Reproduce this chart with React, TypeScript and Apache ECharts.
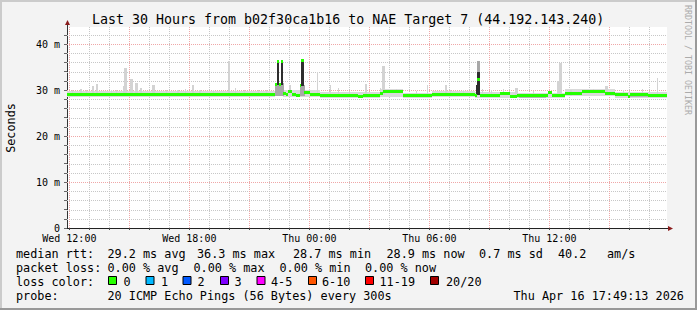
import React, { useEffect, useRef } from 'react';
import * as echarts from 'echarts';

// time in minutes since Wed 00:00
const T_MIN = 713; // Wed 11:53
const T_MAX = 2513; // Thu 17:53
const Y_MAX = 43.7;

const xLabelValues = [720, 1080, 1440, 1800, 2160];
const xLabelTexts = ['Wed 12:00', 'Wed 18:00', 'Thu 00:00', 'Thu 06:00', 'Thu 12:00'];
const xMajorGrid = [720, 900, 1080, 1260, 1440, 1620, 1800, 1980, 2160, 2340];
const xMinorGrid = [720, 780, 840, 900, 960, 1020, 1080, 1140, 1200, 1260, 1320, 1380, 1440, 1500, 1560,
  1620, 1680, 1740, 1800, 1860, 1920, 1980, 2040, 2100, 2160, 2220, 2280, 2340, 2400, 2460];
const yLabelValues = [0, 10, 20, 30, 40];
const yMajorGrid = [10, 20, 30, 40];
const yMinorGrid = [2, 4, 6, 8, 12, 14, 16, 18, 22, 24, 26, 28, 32, 34, 36, 38, 42];
const yTicks = [0, 2, 4, 6, 8, 10, 12, 14, 16, 18, 20, 22, 24, 26, 28, 30, 32, 34, 36, 38, 40, 42];

// median rtt (ms): [step start minute, value]
const medianSteps: [number, number][] = [
  [713, 29.1], [842, 29.0], [887, 29.1], [932, 28.95], [992, 29.1],
  [1337, 31.3], [1343, 36.2], [1350, 31.3], [1354, 36.2], [1361, 29.2], [1370, 29.0],
  [1376, 29.7], [1388, 29.0], [1400, 28.7], [1413, 31.0], [1416, 36.4], [1425, 29.4],
  [1442, 29.0], [1472, 28.8], [1586, 28.6], [1601, 28.8], [1652, 29.2], [1661, 29.7],
  [1721, 28.8], [1808, 29.1], [1937, 28.8], [1944, 32.3], [1951, 28.8], [2012, 29.3],
  [2042, 28.6], [2063, 28.7], [2156, 29.4], [2168, 28.8], [2207, 29.2], [2258, 29.7],
  [2327, 29.2], [2357, 29.0], [2396, 28.6], [2402, 29.0], [2456, 28.8], [2492, 28.7],
];

// smoke: [t0, t1, low ms, high ms]
const smokeBand: number[][] = [
  [713, 842, 28.5, 29.7], [842, 992, 28.4, 29.8], [992, 1337, 28.5, 29.7],
  [1361, 1472, 28.4, 29.9], [1472, 1652, 28.2, 29.5], [1652, 1721, 28.5, 30.2],
  [1721, 1808, 28.3, 29.4], [1808, 1937, 28.5, 29.7], [1937, 2063, 28.3, 29.5],
  [2063, 2207, 28.2, 29.4], [2207, 2357, 28.6, 30.2], [2357, 2513, 28.3, 29.5],
];
const smokeSpikes: number[][] = [
  [728, 731, 29.2, 29.9], [752, 758, 29.2, 30.3], [770, 773, 29.2, 30.0], [788, 794, 29.2, 30.8],
  [800, 806, 29.2, 31.3], [845, 848, 29.2, 29.9], [860, 863, 29.2, 30.1],
  [881, 884, 29.2, 30.8], [884, 893, 29.2, 34.7], [902, 911, 29.2, 32.4], [917, 926, 29.2, 31.5],
  [932, 938, 29.2, 30.4], [968, 977, 29.2, 31.1], [1010, 1013, 29.2, 30.0], [1043, 1049, 29.2, 29.9],
  [1067, 1070, 29.2, 30.2], [1088, 1094, 29.2, 31.1], [1109, 1115, 29.2, 30.0], [1150, 1153, 29.2, 29.9],
  [1196, 1202, 29.2, 36.2], [1217, 1220, 29.2, 30.4], [1245, 1248, 29.2, 30.0],
  [1286, 1289, 29.2, 29.9], [1310, 1313, 29.2, 30.1], [1380, 1386, 29.5, 31.0], [1440, 1443, 29.2, 30.2],
  [1463, 1466, 29.0, 33.9], [1502, 1505, 29.0, 31.0], [1526, 1529, 29.0, 30.4], [1560, 1563, 29.0, 29.8],
  [1607, 1613, 29.0, 31.4], [1652, 1655, 29.0, 30.4], [1658, 1667, 29.0, 35.2], [1700, 1703, 29.5, 30.3],
  [1760, 1763, 29.0, 29.8], [1793, 1796, 29.0, 31.1], [1847, 1853, 29.0, 31.1], [1862, 1865, 29.0, 30.0],
  [1900, 1903, 29.0, 30.0], [1958, 1961, 29.0, 30.3], [1985, 1988, 29.0, 29.9],
  [2021, 2024, 29.0, 30.2], [2057, 2066, 28.8, 30.4], [2110, 2113, 28.8, 29.8], [2183, 2189, 28.8, 31.9],
  [2189, 2198, 28.8, 35.9], [2222, 2228, 28.8, 30.0], [2290, 2293, 29.4, 30.3],
  [2327, 2336, 29.0, 30.9], [2380, 2383, 29.0, 29.9], [2438, 2441, 29.0, 30.3], [2483, 2486, 28.8, 32.7],
];
const smokeLow: number[][] = [
  [1472, 1560, 28.4, 29.0], [1830, 1900, 28.6, 29.1], [2070, 2150, 28.3, 28.9],
  [2400, 2470, 28.5, 29.0], [900, 960, 28.6, 29.1],
];
const smokeMid: number[][] = [
  [1336, 1363, 28.8, 31.5], [1412, 1428, 28.8, 31.0], [1944, 1951, 34.0, 36.4],
];
const smokeDark: number[][] = [
  [1343, 1350, 31.0, 36.2], [1354, 1361, 31.0, 36.2], [1416, 1425, 30.8, 36.4],
  [1944, 1951, 29.0, 34.0], [1940, 1943, 28.8, 31.0],
];

const lossLabels = ['0', '1', '2', '3', '4-5', '6-10', '11-19', '20/20'];
const lossColors = ['#26ff00', '#00b8ff', '#0059ff', '#7e00ff', '#ff00ff', '#ff5500', '#ff0000', '#a10000'];
const lossBoxX = [108.5, 146, 183, 220.5, 257, 308.5, 365.5, 430.5];
const lossTextX = [123.5, 161, 197.5, 234.5, 271, 322, 379.5, 446];

const row1 = [
  ['median rtt:', 16], ['29.2 ms avg', 107.5], ['36.3 ms max', 197], ['28.7 ms min', 293],
  ['28.9 ms now', 386.5], ['0.7 ms sd', 479], ['40.2', 558], ['am/s', 607],
];
const row2 = [
  ['packet loss:', 16], ['0.00 % avg', 107.5], ['0.00 % max', 193.5], ['0.00 % min', 279.5], ['0.00 % now', 365],
];
const row4 = [
  ['probe:', 16], ['20 ICMP Echo Pings (56 Bytes) every 300s', 107.5], ['Thu Apr 16 17:49:13 2026', 513.5],
];

const MONO = "'DejaVu Sans Mono', monospace";
const GREEN = '#26ff00';

function rectSeries(data: number[][], color: string) {
  return {
    type: 'custom',
    data,
    silent: true,
    clip: true,
    encode: { x: [0, 1], y: [2, 3] },
    renderItem: (params: any, api: any) => {
      const p0 = api.coord([api.value(0), api.value(3)]);
      const p1 = api.coord([api.value(1), api.value(2)]);
      const x0 = Math.round(p0[0]);
      const x1 = Math.max(Math.round(p1[0]), x0 + 1);
      const y0 = Math.round(p0[1]);
      const y1 = Math.max(Math.round(p1[1]), y0 + 1);
      return { type: 'rect', shape: { x: x0, y: y0, width: x1 - x0, height: y1 - y0 }, style: { fill: color } };
    },
  };
}

function vGridSeries(values: number[], color: string) {
  return {
    type: 'custom',
    data: values.map((t) => [t, 0]),
    silent: true,
    renderItem: (params: any, api: any) => {
      const cs = params.coordSys;
      const x = Math.round(api.coord([api.value(0), 0])[0]) + 0.5;
      return {
        type: 'line',
        shape: { x1: x, y1: cs.y, x2: x, y2: cs.y + cs.height },
        style: { stroke: color, lineWidth: 1, lineDash: [1, 1] },
      };
    },
  };
}

function hGridSeries(values: number[], color: string) {
  return {
    type: 'custom',
    data: values.map((v) => [T_MIN, v]),
    silent: true,
    renderItem: (params: any, api: any) => {
      const cs = params.coordSys;
      const y = Math.round(api.coord([T_MIN, api.value(1)])[1]) + 0.5;
      return {
        type: 'line',
        shape: { x1: cs.x, y1: y, x2: cs.x + cs.width, y2: y },
        style: { stroke: color, lineWidth: 1, lineDash: [1, 1] },
      };
    },
  };
}

function buildOption() {
  const medianData = medianSteps.map((s, i) => [
    s[0],
    i + 1 < medianSteps.length ? medianSteps[i + 1][0] : T_MAX,
    s[1],
  ]);

  const texts: any[] = [];
  const addText = (text: string, x: number, y: number, extra: any = {}) =>
    texts.push({
      type: 'text',
      x,
      y,
      silent: true,
      style: { text, fontFamily: MONO, fontSize: 11.8, fill: '#000', align: 'left', verticalAlign: 'middle', ...extra },
    });
  row1.forEach(([t, x]) => addText(t as string, x as number, 254));
  row2.forEach(([t, x]) => addText(t as string, x as number, 268.3));
  addText('loss color:', 16, 282);
  lossLabels.forEach((l, i) => {
    texts.push({
      type: 'rect',
      silent: true,
      shape: { x: lossBoxX[i], y: 276.5, width: 8, height: 8 },
      style: { fill: lossColors[i], stroke: '#000', lineWidth: 1 },
    });
    addText(l, lossTextX[i], 282);
  });
  row4.forEach(([t, x]) => addText(t as string, x as number, 296));

  return {
    animation: false,
    backgroundColor: '#f3f3f3',
    grid: { left: 67, right: 30, top: 27, bottom: 82, show: true, backgroundColor: '#ffffff', borderWidth: 0, containLabel: false },
    xAxis: {
      type: 'value',
      min: T_MIN,
      max: T_MAX,
      splitLine: { show: false },
      axisLine: { show: true, lineStyle: { color: '#222', width: 1 } },
      axisTick: { show: true, customValues: xMinorGrid, length: 2, lineStyle: { color: '#444' } },
      axisLabel: {
        customValues: xLabelValues,
        formatter: (v: number) => {
          const i = xLabelValues.indexOf(Math.round(v));
          return i >= 0 ? xLabelTexts[i] : '';
        },
        fontFamily: MONO,
        fontSize: 10,
        color: '#000',
        margin: 5,
      },
    },
    yAxis: {
      type: 'value',
      min: 0,
      max: Y_MAX,
      splitLine: { show: false },
      axisLine: { show: true, lineStyle: { color: '#333', width: 1 } },
      axisTick: { show: true, customValues: yTicks, length: 3, lineStyle: { color: '#666' } },
      axisLabel: {
        customValues: yLabelValues,
        formatter: (v: number) => (v === 0 ? '0' : `${Math.round(v)} m`),
        fontFamily: MONO,
        fontSize: 10,
        color: '#000',
        margin: 7,
      },
    },
    series: [
      vGridSeries(xMinorGrid, '#c7c7c7'),
      hGridSeries(yMinorGrid, '#c7c7c7'),
      vGridSeries(xMajorGrid, '#efa7a7'),
      hGridSeries(yMajorGrid, '#efa7a7'),
      rectSeries(smokeBand, '#dadada'),
      rectSeries(smokeSpikes, '#d3d3d3'),
      rectSeries(smokeLow, '#b4b4b4'),
      rectSeries(smokeMid, '#a8a8a8'),
      rectSeries(smokeDark, '#2e2e2e'),
      {
        type: 'custom',
        data: medianData,
        silent: true,
        clip: true,
        encode: { x: [0, 1], y: 2 },
        renderItem: (params: any, api: any) => {
          const p0 = api.coord([api.value(0), api.value(2)]);
          const p1 = api.coord([api.value(1), api.value(2)]);
          const x0 = Math.round(p0[0]);
          const x1 = Math.max(Math.round(p1[0]), x0 + 1);
          const y = Math.round(p0[1] - 1.5);
          return { type: 'rect', shape: { x: x0, y, width: x1 - x0, height: 3 }, style: { fill: GREEN } };
        },
      },
      {
        type: 'custom',
        data: [[T_MIN, 0]],
        silent: true,
        clip: false,
        renderItem: (params: any, api: any) => {
          const cs = params.coordSys;
          const ax = Math.round(cs.x) + 0.5;
          const ay = Math.round(cs.y + cs.height) + 0.5;
          const rx = cs.x + cs.width;
          return {
            type: 'group',
            children: [
              { type: 'line', shape: { x1: ax, y1: cs.y, x2: ax, y2: cs.y - 3 }, style: { stroke: '#333', lineWidth: 1 } },
              { type: 'line', shape: { x1: rx, y1: ay, x2: rx + 2, y2: ay }, style: { stroke: '#222', lineWidth: 1 } },
              { type: 'polygon', shape: { points: [[ax - 2.5, cs.y - 2], [ax + 2.5, cs.y - 2], [ax, cs.y - 7]] }, style: { fill: '#8b1c1c' } },
              { type: 'polygon', shape: { points: [[rx + 1, ay - 2.5], [rx + 1, ay + 2.5], [rx + 6, ay]] }, style: { fill: '#8b1c1c' } },
            ],
          };
        },
      },
    ],
    graphic: [
      { type: 'rect', silent: true, shape: { x: 0, y: 0, width: 697, height: 2 }, style: { fill: '#cbcbcb' } },
      { type: 'rect', silent: true, shape: { x: 0, y: 0, width: 2, height: 310 }, style: { fill: '#cbcbcb' } },
      { type: 'rect', silent: true, shape: { x: 0, y: 308, width: 697, height: 2 }, style: { fill: '#999999' } },
      { type: 'rect', silent: true, shape: { x: 695, y: 0, width: 2, height: 310 }, style: { fill: '#999999' } },
      {
        type: 'text', x: 92, y: 19.5, silent: true,
        style: { text: 'Last 30 Hours from b02f30ca1b16 to NAE Target 7 (44.192.143.240)', fontFamily: MONO, fontSize: 13.3, fill: '#000', align: 'left', verticalAlign: 'middle' },
      },
      {
        type: 'text', x: 10.5, y: 128, rotation: Math.PI / 2, silent: true,
        style: { text: 'Seconds', fontFamily: MONO, fontSize: 11.8, fill: '#000', align: 'center', verticalAlign: 'middle' },
      },
      {
        type: 'text', x: 688, y: 60, rotation: -Math.PI / 2, silent: true,
        style: { text: 'RRDTOOL / TOBI OETIKER', fontFamily: MONO, fontSize: 8.3, fill: '#ababab', align: 'center', verticalAlign: 'middle' },
      },
      ...texts,
    ],
  };
}

export default function App() {
  const ref = useRef<HTMLDivElement>(null);
  useEffect(() => {
    if (!ref.current) return;
    const chart = echarts.init(ref.current, null, { renderer: 'svg' });
    chart.setOption(buildOption() as any);
    return () => chart.dispose();
  }, []);
  return <div ref={ref} style={{ position: 'fixed', left: 0, top: 0, width: 697, height: 310 }} />;
}
